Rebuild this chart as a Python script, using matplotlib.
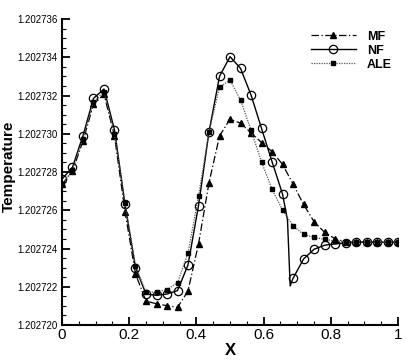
import numpy as np
import matplotlib
matplotlib.use("Agg")
import matplotlib.pyplot as plt
from matplotlib.ticker import MultipleLocator, FormatStrFormatter

plt.rcParams['font.family'] = ['Liberation Sans', 'DejaVu Sans']

# marker stations x = k/32
x_pts = [k / 32 for k in range(33)]

# temperature offsets in units of 1e-6 above 1.202720
mf_off = [7.35, 8.04, 9.62, 11.54, 12.06, 9.88, 5.93, 2.67, 1.25, 1.11, 1.01,
          0.92, 1.78, 4.24, 7.44, 9.88, 10.77, 10.55, 10.05, 9.54, 9.07, 8.40,
          7.37, 6.31, 5.40, 4.85, 4.51, 4.35, 4.33, 4.33, 4.33, 4.33, 4.33]
nf_off = [7.63, 8.25, 9.90, 11.85, 12.34, 10.20, 6.31, 3.00, 1.62, 1.55, 1.62,
          1.80, 3.14, 6.24, 10.10, 13.00, 14.03, 13.42, 12.03, 10.28, 8.54, 6.85,
          2.44, 3.45, 3.96, 4.17, 4.24, 4.30, 4.33, 4.33, 4.33, 4.33, 4.33]
ale_off = [7.35, 8.10, 9.75, 11.65, 12.20, 10.00, 6.36, 3.10, 1.71, 1.73, 1.85,
           2.21, 3.76, 6.73, 10.10, 12.43, 12.81, 11.76, 10.20, 8.52, 7.10, 6.01,
           5.19, 4.74, 4.58, 4.48, 4.39, 4.35, 4.33, 4.33, 4.33, 4.33, 4.33]

# extra points on the NF line (sharp drop before x = 0.6875)
nf_extra_x = [0.671, 0.679]
nf_extra_off = [5.5, 2.04]

base = 1.202720
mf = [base + v * 1e-6 for v in mf_off]
nf = [base + v * 1e-6 for v in nf_off]
ale = [base + v * 1e-6 for v in ale_off]

# merge NF line points
nf_x = x_pts[:22] + nf_extra_x + x_pts[22:]
nf_y = nf[:22] + [base + v * 1e-6 for v in nf_extra_off] + nf[22:]
nf_marks = list(range(22)) + list(range(24, len(nf_x)))

fig = plt.figure(figsize=(4.07, 3.62), dpi=100)
ax = fig.add_axes([0.1523, 0.1022, 0.8257, 0.8453])

ax.plot(x_pts, mf, color='black', lw=0.9, ls=(0, (6, 2, 1, 2)),
        marker='^', ms=4, mfc='black', mec='black', label='MF')
ax.plot(nf_x, nf_y, color='black', lw=1.0, ls='-', marker='o', ms=6,
        mfc='none', mec='black', mew=0.9, markevery=nf_marks, label='NF')
ax.plot(x_pts, ale, color='#555555', lw=0.9, ls=(0, (1, 1)),
        marker='s', ms=3.5, mfc='black', mec='black', label='ALE')

ax.set_xlim(0, 1)
ax.set_ylim(1.202720, 1.202736)
ax.xaxis.set_major_locator(MultipleLocator(0.2))
ax.xaxis.set_minor_locator(MultipleLocator(0.05))
ax.yaxis.set_major_locator(MultipleLocator(2e-6))
ax.yaxis.set_minor_locator(MultipleLocator(5e-7))
ax.xaxis.set_major_formatter(FormatStrFormatter('%g'))
ax.yaxis.set_major_formatter(FormatStrFormatter('%.6f'))

for s in ['top', 'right']:
    ax.spines[s].set_visible(False)
for s in ['left', 'bottom']:
    ax.spines[s].set_linewidth(1.5)

ax.tick_params(axis='both', which='major', direction='in', length=6, width=1.3)
ax.tick_params(axis='both', which='minor', direction='in', length=3, width=0.8)
ax.tick_params(axis='x', labelsize=11, pad=2)
ax.tick_params(axis='y', labelsize=7, pad=3)

ax.set_xlabel('X', fontsize=12, fontweight='bold', labelpad=1)
ax.set_ylabel('Temperature', fontsize=11, fontweight='bold')
ax.yaxis.set_label_coords(-0.137, 0.52)

leg = ax.legend(loc='upper right', bbox_to_anchor=(1.016, 0.998), frameon=False,
                handlelength=3.6, handletextpad=0.9, labelspacing=0.15,
                prop={'weight': 'bold', 'size': 9})

fig.savefig('out.png', dpi=100)
